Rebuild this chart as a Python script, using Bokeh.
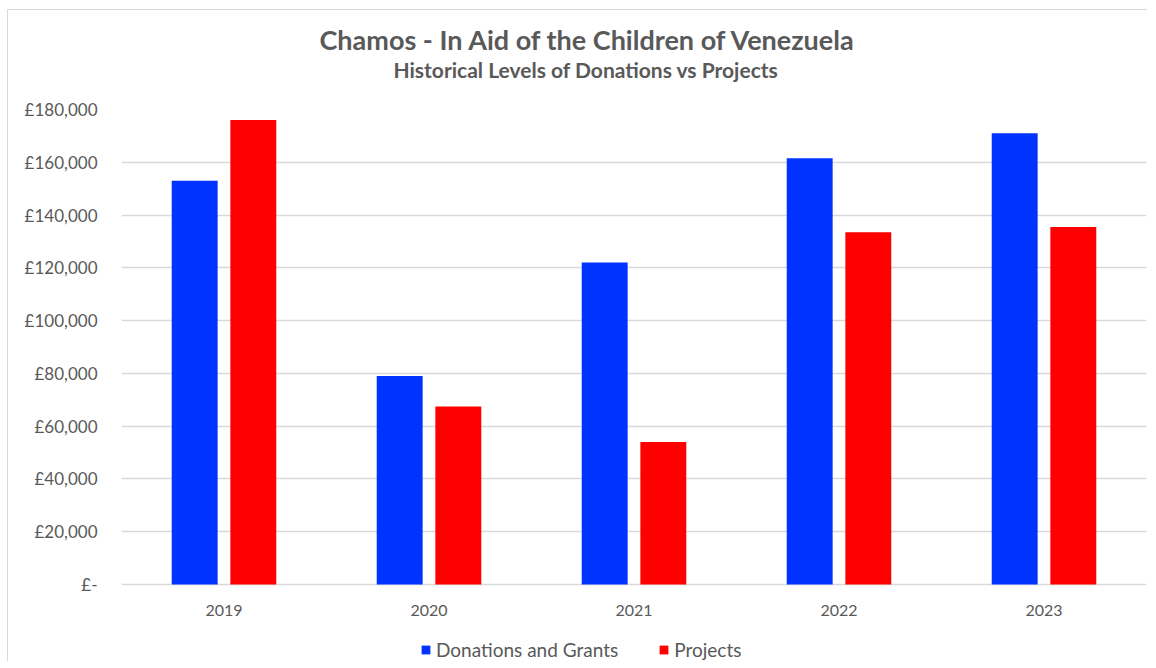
from bokeh.plotting import figure
from bokeh.models import (FactorRange, Range1d, ColumnDataSource, FixedTicker,
                          Legend, LegendItem, Title)
from bokeh.core.properties import value
from bokeh.transform import dodge
from bokeh.embed import file_html
from bokeh.resources import INLINE

years = ["2019", "2020", "2021", "2022", "2023"]
donations = [153000, 79000, 122000, 161500, 171000]
projects = [176000, 67500, 54000, 133500, 135500]
series_names = ["Donations and Grants", "Projects"]
series_colors = ["#0033FF", "#FF0000"]
y_ticks = [0, 20000, 40000, 60000, 80000, 100000, 120000, 140000, 160000, 180000]
y_tick_labels = ["£-", "£20,000", "£40,000", "£60,000", "£80,000", "£100,000",
                 "£120,000", "£140,000", "£160,000", "£180,000"]
title_text = "Chamos - In Aid of the Children of Venezuela"
subtitle_text = "Historical Levels of Donations vs Projects"

FONT = "Lato"
TXT = "#595959"

# layout (pixels)
W, H = 1140, 652
ML, MR, MT = 113, 2, 99
plot_px = 475          # height of 0..180000 in px
below_px = 78          # frame space below the zero line (labels + legend)
y_max = y_ticks[-1]
y_min = -y_max * below_px / plot_px

src = ColumnDataSource(dict(year=years, donations=donations, projects=projects))

p = figure(x_range=FactorRange(*years), y_range=Range1d(y_min, y_max),
           width=W, height=H, output_backend="svg", toolbar_location=None,
           title=None, min_border_left=ML, min_border_right=MR,
           min_border_top=MT, min_border_bottom=0)
p.x_range.range_padding = 0
p.styles = {"margin-left": "7px", "margin-top": "9px",
            "border-left": "1px solid #d9d9d9", "border-top": "1px solid #d9d9d9"}

r1 = p.vbar(x=dodge("year", -0.143, range=p.x_range), top="donations", bottom=0,
            width=0.224, source=src, fill_color=series_colors[0], line_color=None)
r2 = p.vbar(x=dodge("year", 0.143, range=p.x_range), top="projects", bottom=0,
            width=0.224, source=src, fill_color=series_colors[1], line_color=None)

# category labels under the zero line
p.text(x=years, y=[0] * len(years), text=years, y_offset=26,
       text_align="center", text_baseline="middle",
       text_font=value(FONT), text_font_size="16px", text_color=TXT)

p.add_layout(Title(text=subtitle_text, align="left", offset=272,
                   text_font_size="21px", text_font_style="bold",
                   text_color=TXT, text_font=FONT, standoff=56), "above")
p.add_layout(Title(text=title_text, align="left", offset=198,
                   text_font_size="27px", text_font_style="bold",
                   text_color=TXT, text_font=FONT, standoff=-58), "above")

p.outline_line_color = None
p.xgrid.grid_line_color = None
p.ygrid.grid_line_color = "#d9d9d9"
p.ygrid.grid_line_width = 1.5
p.xaxis.visible = False
p.yaxis.ticker = FixedTicker(ticks=y_ticks)
p.yaxis.major_label_overrides = dict(zip(y_ticks, y_tick_labels))
p.yaxis.axis_line_color = None
p.yaxis.major_tick_line_color = None
p.yaxis.minor_tick_line_color = None
p.yaxis.major_label_text_font = FONT
p.yaxis.major_label_text_color = TXT
p.yaxis.major_label_text_font_size = "17px"
p.yaxis.major_label_standoff = 18

legend = Legend(items=[LegendItem(label=series_names[0], renderers=[r1]),
                       LegendItem(label=series_names[1], renderers=[r2])],
                orientation="horizontal", location=(299, 1),
                glyph_width=11, glyph_height=11, label_standoff=5, spacing=40,
                label_text_font=FONT, label_text_font_size="19px",
                label_text_color=TXT, border_line_color=None,
                background_fill_alpha=0, padding=0, margin=0)
p.add_layout(legend)

open("out.html", "w").write(file_html(p, INLINE))
